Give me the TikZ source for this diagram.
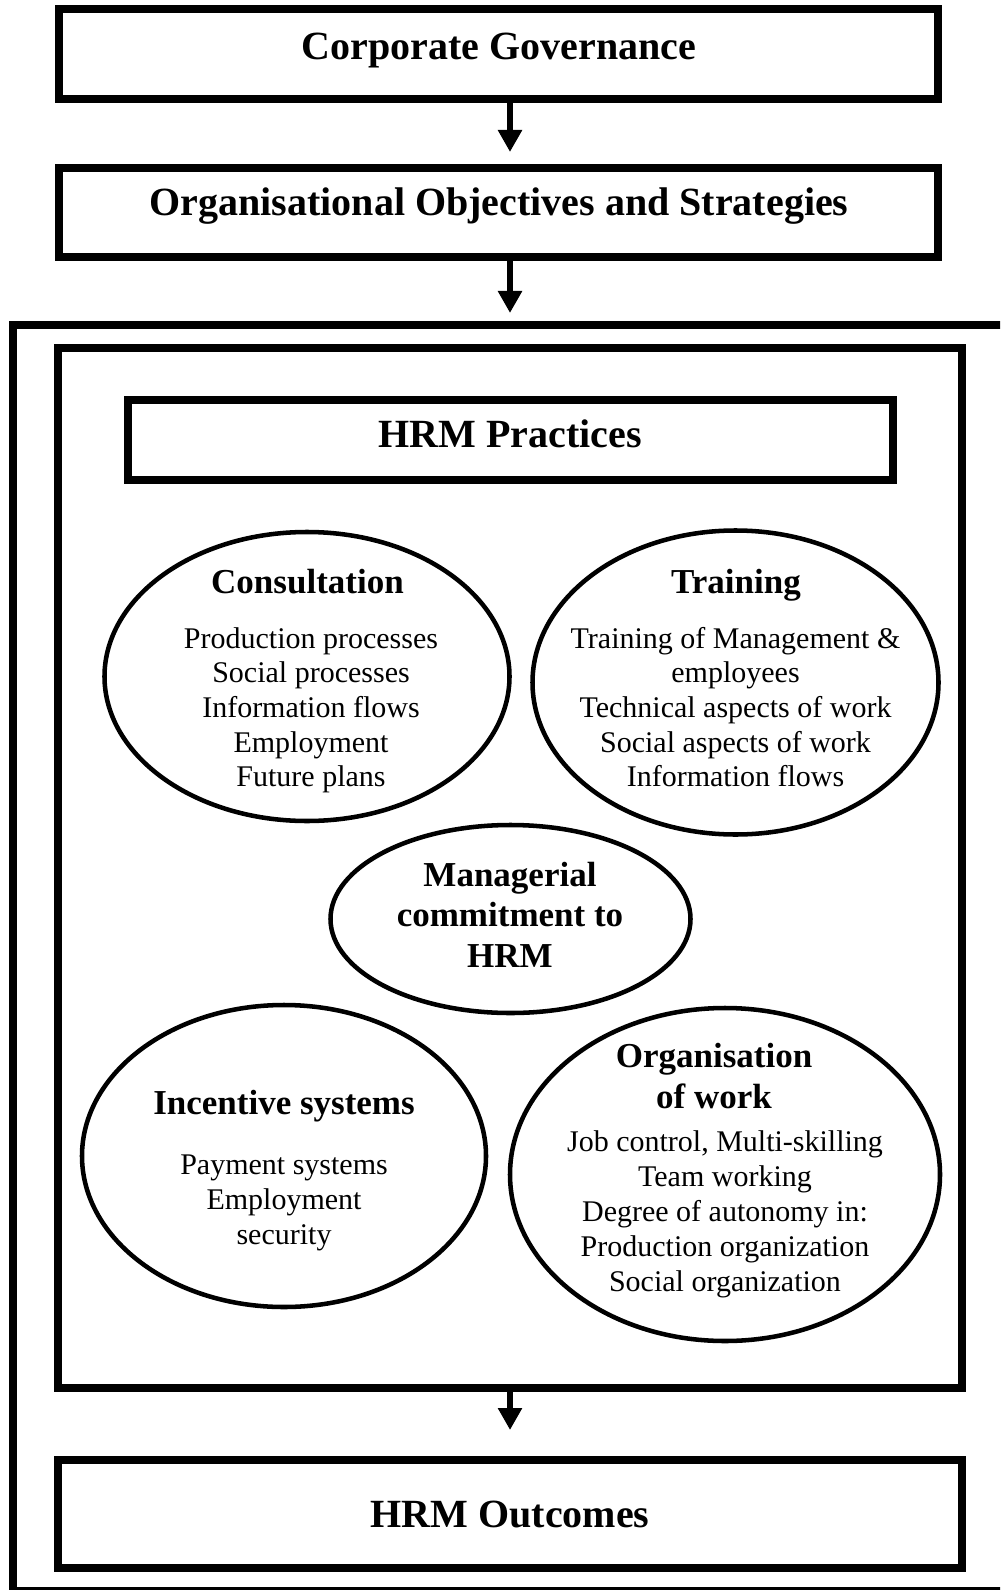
\documentclass[tikz,border=0pt]{standalone}
\usepackage{fontspec}
\setmainfont{Liberation Serif}
\usetikzlibrary{shapes.geometric,arrows.meta}
\tikzset{
  box/.style={draw, line width=6pt, inner sep=0pt},
  oval/.style={draw, ellipse, line width=3.4pt, inner sep=0pt},
  title/.style={font=\fontsize{30}{34}\selectfont\bfseries, anchor=base, inner sep=0pt},
  head/.style={font=\fontsize{26.25}{30}\selectfont\bfseries, anchor=base, inner sep=0pt},
  body/.style={font=\fontsize{22.5}{26}\selectfont, anchor=base, inner sep=0pt},
  arr/.style={line width=4.5pt, -{Triangle[width=17.25pt,length=16.5pt]}},
}
\begin{document}
\begin{tikzpicture}[x=0.75pt,y=-0.75pt]
\useasboundingbox (0,0) rectangle (1000,1590);
\clip (0,0) rectangle (1000,1590);
\fill[white] (0,0) rectangle (1000,1590);
% outer frame (runs off the right edge; bottom edge at the page border)
\draw[line width=6pt] (13,325) rectangle (1030,1591);
% boxes
\node[box, minimum width={879*0.75pt}, minimum height={90*0.75pt}] (gov) at (498.5,54) {};
\node[box, minimum width={879*0.75pt}, minimum height={89*0.75pt}] (obj) at (498.5,212.5) {};
\node[box, minimum width={904*0.75pt}, minimum height={1040*0.75pt}] (prac) at (510,868) {};
\node[box, minimum width={765*0.75pt}, minimum height={80*0.75pt}] (hrmp) at (510.5,440) {};
\node[box, minimum width={904*0.75pt}, minimum height={108*0.75pt}] (outc) at (510,1514) {};
\coordinate (frametop) at (510,325);
% arrows
\draw[arr, shorten >={12*0.75pt}] (gov.south -| frametop) -- (obj.north -| frametop);
\draw[arr, shorten >={12*0.75pt}] (obj.south -| frametop) -- (frametop);
\draw[arr, shorten >={26*0.75pt}] (prac.south) -- (outc.north);
% ellipses
\node[oval, minimum width={405*0.75pt}, minimum height={289*0.75pt}] (cons) at (307,676.5) {};
\node[oval, minimum width={406*0.75pt}, minimum height={304*0.75pt}] (train) at (735.5,682.5) {};
\node[oval, minimum width={360*0.75pt}, minimum height={188*0.75pt}] (mgr) at (510.5,919) {};
\node[oval, minimum width={404*0.75pt}, minimum height={302*0.75pt}] (inc) at (284,1156) {};
\node[oval, minimum width={430*0.75pt}, minimum height={333*0.75pt}] (org) at (725,1174.5) {};
% titles
\node[title] (tgov) at (499,60) {Corporate Governance};
\node[title] (tobj) at (499,216) {Organisational Objectives and Strategies};
\node[title] (thrmp) at (510,447) {HRM Practices};
\node[title] (toutc) at (510,1527) {HRM Outcomes};
% consultation
\node[head] (hcons) at (307.5,593) {Consultation};
\node[body] (c1) at (311,648) {Production processes};
\node[body] (c2) at (311,682.7) {Social processes};
\node[body] (c3) at (311,717.4) {Information flows};
\node[body] (c4) at (311,752) {Employment};
\node[body] (c5) at (311,786.7) {Future plans};
% training
\node[head] (htrain) at (736,593) {Training};
\node[body] (t1) at (735.5,648) {Training of Management \&};
\node[body] (t2) at (735.5,682.7) {employees};
\node[body] (t3) at (735.5,717.4) {Technical aspects of work};
\node[body] (t4) at (735.5,752) {Social aspects of work};
\node[body] (t5) at (735.5,786.7) {Information flows};
% managerial
\node[head] (m1) at (510,886) {Managerial};
\node[head] (m2) at (510,926.5) {commitment to};
\node[head] (m3) at (510,967) {HRM};
% incentive
\node[head] (hinc) at (284,1114) {Incentive systems};
\node[body] (i1) at (284,1174) {Payment systems};
\node[body] (i2) at (284,1209) {Employment};
\node[body] (i3) at (284,1244) {security};
% organisation
\node[head] (horg1) at (714,1067) {Organisation};
\node[head] (horg2) at (714,1108) {of work};
\node[body] (o1) at (725,1151) {Job control, Multi-skilling};
\node[body] (o2) at (725,1186) {Team working};
\node[body] (o3) at (725,1221) {Degree of autonomy in:};
\node[body] (o4) at (725,1256) {Production organization};
\node[body] (o5) at (725,1291) {Social organization};
\end{tikzpicture}
\end{document}
